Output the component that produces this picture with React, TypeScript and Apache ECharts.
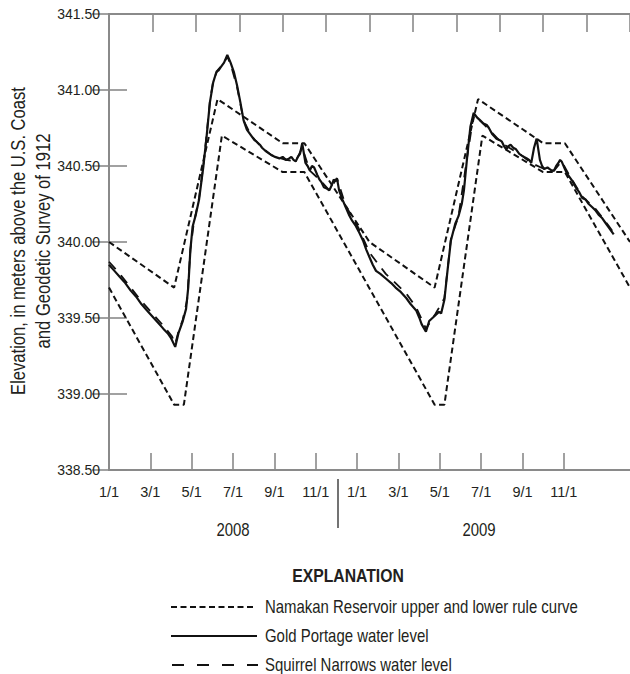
import React, { useEffect, useRef } from "react";
import * as echarts from "echarts";

// x values are months since 1/1/2008 (0..24)
const upperRuleCurve: [number, number][] = [
  [0, 340.0], [3, 339.7], [5.0, 340.94], [8, 340.65], [9, 340.65], [12, 340.0],
  [15, 339.7], [17.0, 340.94], [20, 340.65], [21, 340.65], [24, 340.0],
];
const lowerRuleCurve: [number, number][] = [
  [0, 339.7], [3, 338.93], [3.45, 338.93], [5.2, 340.7], [8, 340.46], [9, 340.46],
  [15, 338.93], [15.45, 338.93], [17.2, 340.7], [20, 340.46], [21, 340.46], [24, 339.7],
];
const goldPortage: [number, number][] = [
  [0, 339.85], [0.25, 339.81], [0.5, 339.77], [0.75, 339.73], [1.0, 339.68], [1.25, 339.64],
  [1.5, 339.59], [1.75, 339.55], [2.0, 339.51], [2.25, 339.47], [2.5, 339.43], [2.7, 339.4],
  [2.85, 339.37], [3.05, 339.31], [3.2, 339.4], [3.4, 339.48], [3.55, 339.56], [3.65, 339.7],
  [3.75, 339.95], [3.85, 340.1], [4.0, 340.18], [4.15, 340.28], [4.35, 340.5], [4.5, 340.7],
  [4.65, 340.92], [4.8, 341.05], [4.95, 341.12], [5.05, 341.13], [5.15, 341.15], [5.3, 341.18],
  [5.45, 341.23], [5.6, 341.18], [5.75, 341.12], [5.9, 341.03], [6.05, 340.92], [6.2, 340.8],
  [6.35, 340.74], [6.45, 340.72], [6.55, 340.7], [6.7, 340.67], [6.8, 340.66], [6.95, 340.64],
  [7.05, 340.62], [7.2, 340.6], [7.3, 340.59], [7.4, 340.58], [7.5, 340.57], [7.65, 340.56],
  [7.85, 340.55], [8.0, 340.56], [8.15, 340.54], [8.3, 340.55], [8.4, 340.56], [8.5, 340.54],
  [8.6, 340.53], [8.7, 340.56], [8.8, 340.58], [8.9, 340.65], [9.05, 340.52], [9.15, 340.5],
  [9.25, 340.47], [9.35, 340.5], [9.45, 340.49], [9.6, 340.44], [9.7, 340.41], [9.8, 340.39],
  [9.9, 340.36], [10.05, 340.35], [10.15, 340.34], [10.25, 340.37], [10.35, 340.41], [10.45, 340.4],
  [10.5, 340.42], [10.6, 340.34], [10.75, 340.28], [10.9, 340.23], [11.05, 340.18], [11.2, 340.14],
  [11.35, 340.11], [11.5, 340.07], [11.7, 340.01], [11.85, 339.95], [12.0, 339.9], [12.15, 339.85],
  [12.3, 339.81], [12.5, 339.79], [12.75, 339.76], [13.0, 339.73], [13.2, 339.7], [13.45, 339.67],
  [13.7, 339.63], [13.9, 339.59], [14.15, 339.55], [14.3, 339.5], [14.4, 339.46], [14.6, 339.41],
  [14.75, 339.48], [14.9, 339.5], [15.05, 339.52], [15.2, 339.54], [15.3, 339.53], [15.45, 339.62],
  [15.6, 339.82], [15.75, 340.01], [15.95, 340.12], [16.1, 340.17], [16.25, 340.25], [16.35, 340.34],
  [16.5, 340.56], [16.65, 340.76], [16.8, 340.85], [16.95, 340.82], [17.1, 340.8], [17.25, 340.78],
  [17.4, 340.77], [17.5, 340.75], [17.65, 340.71], [17.85, 340.68], [18.0, 340.67], [18.1, 340.66],
  [18.2, 340.63], [18.3, 340.61], [18.4, 340.63], [18.5, 340.64], [18.62, 340.62], [18.75, 340.61],
  [18.9, 340.58], [19.0, 340.57], [19.12, 340.56], [19.25, 340.55], [19.35, 340.54], [19.45, 340.52],
  [19.58, 340.62], [19.7, 340.68], [19.85, 340.54], [19.95, 340.5], [20.05, 340.48], [20.2, 340.49],
  [20.3, 340.48], [20.4, 340.47], [20.5, 340.47], [20.6, 340.5], [20.7, 340.52], [20.78, 340.54],
  [20.85, 340.53], [21.0, 340.48], [21.1, 340.45], [21.2, 340.43], [21.35, 340.4], [21.5, 340.36],
  [21.65, 340.33], [21.8, 340.29], [21.95, 340.28], [22.1, 340.25], [22.25, 340.23], [22.4, 340.21],
  [22.55, 340.18], [22.7, 340.16], [22.85, 340.13], [23.0, 340.1], [23.25, 340.05],
];
const squirrelNarrows: [number, number][] = [
  [0, 339.87], [0.5, 339.79], [1, 339.7], [1.5, 339.61], [2, 339.53], [2.5, 339.45],
  [2.9, 339.38], [3.05, 339.33], [3.2, 339.41], [3.4, 339.49], [3.6, 339.62], [3.75, 339.95],
  [3.9, 340.12], [4.15, 340.29], [4.35, 340.51], [4.5, 340.71], [4.65, 340.93], [4.8, 341.06],
  [5.0, 341.13], [5.3, 341.18], [5.45, 341.22], [5.6, 341.17], [5.9, 341.02], [6.2, 340.8],
  [6.55, 340.7], [7.05, 340.62], [7.5, 340.57], [8.15, 340.54], [8.6, 340.53], [8.9, 340.62],
  [9.25, 340.47], [9.7, 340.41], [10.15, 340.34], [10.5, 340.42], [10.9, 340.24], [11.5, 340.09],
  [12.0, 339.93], [12.75, 339.79], [13.2, 339.73], [13.7, 339.66], [14.15, 339.57], [14.6, 339.43],
  [15.05, 339.53], [15.45, 339.63], [15.75, 340.02], [16.1, 340.17], [16.5, 340.56], [16.8, 340.84],
  [17.5, 340.74], [18.1, 340.65], [19.0, 340.57], [19.45, 340.52], [20.05, 340.48], [20.5, 340.47],
  [20.85, 340.53], [21.2, 340.44], [21.8, 340.3], [22.4, 340.22], [23.0, 340.11], [23.25, 340.06],
];
const bottomTickLabels = ["1/1", "3/1", "5/1", "7/1", "9/1", "11/1", "1/1", "3/1", "5/1", "7/1", "9/1", "11/1"];
const yearLabels = ["2008", "2009"];
const legendLabels = [
  "Namakan Reservoir upper and lower rule curve",
  "Gold Portage water level",
  "Squirrel Narrows water level",
];
const yTitleLines = ["Elevation, in meters above the U.S. Coast", "and Geodetic Survey of 1912"];

const FONT = '"Liberation Sans", Arial, sans-serif';
const TEXT = "#231f20";
const AXIS = "#8a8a8a";
const INK = "#111111";
const NARROW = 0.83;

export default function App() {
  const ref = useRef<HTMLDivElement>(null);
  useEffect(() => {
    if (!ref.current) return;
    const chart = echarts.init(ref.current, null, { renderer: "svg" });
    const axisLine = { show: true, lineStyle: { color: AXIS, width: 2 } };
    const tickStyle = { color: AXIS, width: 1.6 };
    const ticks = bottomTickLabels.map((_, i) => i);
    chart.setOption({
      animation: false,
      grid: { left: 109, top: 14, width: 522, height: 456 },
      xAxis: [
        {
          type: "value", position: "top", min: 0, max: 24, interval: 2,
          axisLine, axisTick: { inside: true, length: 18, lineStyle: tickStyle },
          axisLabel: { show: false }, splitLine: { show: false },
        },
        {
          type: "value", position: "bottom", min: 0, max: 12.6,
          axisLine,
          axisTick: { inside: true, length: 17, lineStyle: tickStyle, customValues: ticks.slice(1) },
          axisLabel: {
            customValues: ticks, margin: 14, color: TEXT, fontFamily: FONT, fontSize: 14.5,
            formatter: (v: number) => bottomTickLabels[Math.round(v)] ?? "",
          },
          splitLine: { show: false },
        },
      ],
      yAxis: [
        {
          type: "value", position: "left", min: 338.5, max: 341.5, interval: 0.5,
          axisLine, axisTick: { inside: true, length: 18, lineStyle: tickStyle },
          axisLabel: { margin: 9, color: TEXT, fontFamily: FONT, fontSize: 14, formatter: (v: number) => v.toFixed(2) },
          splitLine: { show: false },
        },
        {
          type: "value", position: "right", min: 338.5, max: 341.5, interval: 0.5,
          axisLine, axisTick: { inside: true, length: 17, lineStyle: tickStyle },
          axisLabel: { show: false }, splitLine: { show: false },
        },
      ],
      series: [
        { type: "line", name: "upper", data: upperRuleCurve, symbol: "none", lineStyle: { color: INK, width: 2, type: [6, 3.5] } },
        { type: "line", name: "lower", data: lowerRuleCurve, symbol: "none", lineStyle: { color: INK, width: 2, type: [6, 3.5] } },
        { type: "line", name: "squirrel", data: squirrelNarrows, symbol: "none", lineStyle: { color: INK, width: 1.8, type: [10, 8] } },
        { type: "line", name: "gold", data: goldPortage, symbol: "none", lineStyle: { color: INK, width: 2.2 } },
      ],
      graphic: [
        ...yTitleLines.map((t, i) => ({
          type: "text", x: 18 + i * 25, y: 241, rotation: Math.PI / 2, scaleX: NARROW,
          style: { text: t, fill: TEXT, font: `20px ${FONT}`, textAlign: "center", textVerticalAlign: "middle" },
        })),
        { type: "line", shape: { x1: 338, y1: 479, x2: 338, y2: 528 }, style: { stroke: "#444", lineWidth: 1.5 } },
        ...yearLabels.map((t, i) => ({
          type: "text", x: i === 0 ? 233 : 479, y: 530, scaleX: NARROW,
          style: { text: t, fill: TEXT, font: `18px ${FONT}`, textAlign: "center", textVerticalAlign: "middle" },
        })),
        {
          type: "text", x: 348, y: 575, scaleX: NARROW,
          style: { text: "EXPLANATION", fill: TEXT, font: `bold 19px ${FONT}`, textAlign: "center", textVerticalAlign: "middle" },
        },
        { type: "line", shape: { x1: 171, y1: 607, x2: 253, y2: 607 }, style: { stroke: INK, lineWidth: 2, lineDash: [6, 3.5] } },
        { type: "line", shape: { x1: 171, y1: 636, x2: 257, y2: 636 }, style: { stroke: INK, lineWidth: 2 } },
        { type: "line", shape: { x1: 172, y1: 665, x2: 258, y2: 665 }, style: { stroke: INK, lineWidth: 2, lineDash: [12, 13] } },
        ...legendLabels.map((t, i) => ({
          type: "text", x: 265, y: [607, 636, 665][i], scaleX: NARROW,
          style: { text: t, fill: TEXT, font: `18px ${FONT}`, textAlign: "left", textVerticalAlign: "middle" },
        })),
      ],
    });
    return () => chart.dispose();
  }, []);
  return (
    <div
      ref={ref}
      style={{ position: "absolute", left: 0, top: 0, width: 630, height: 674, background: "#fff" }}
    />
  );
}
